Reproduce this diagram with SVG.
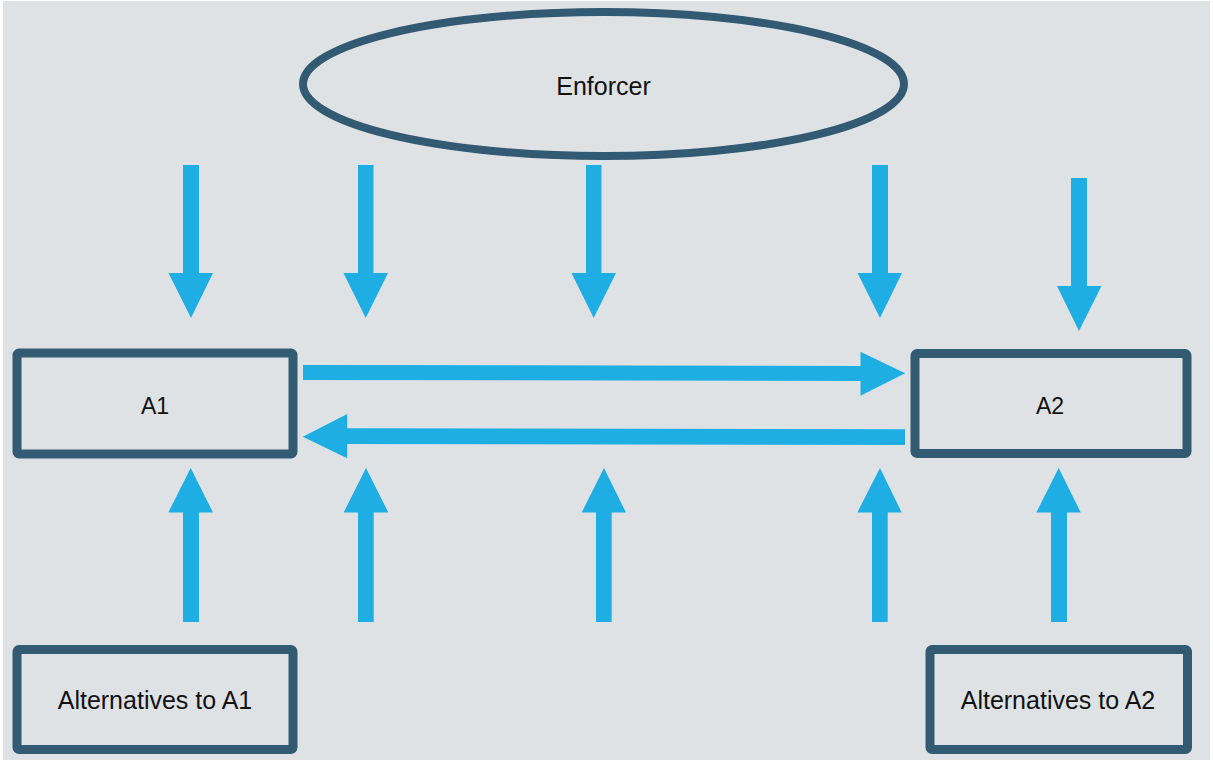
<svg xmlns="http://www.w3.org/2000/svg" width="1213" height="762" viewBox="0 0 1213 762">
<style>
.box{fill:#dfe2e5;stroke:#335a73;stroke-width:9;}
.ell{fill:#dfe2e5;stroke:#335a73;stroke-width:8;}
.lbl{font-family:"Liberation Sans",Arial,sans-serif;fill:#111;text-anchor:middle;}
.arr{fill:#1eaee4;}
</style>
<rect x="0" y="0" width="1213" height="762" fill="#ffffff"/>
<rect x="3" y="1" width="1207" height="759" fill="#dfe2e5"/>
<g id="enforcer">
<ellipse class="ell" cx="603.5" cy="84" rx="300.5" ry="72"/>
<text class="lbl" x="603.5" y="95" font-size="25">Enforcer</text>
</g>
<g id="a1">
<rect class="box" x="17" y="353" width="276" height="101" rx="2"/>
<text class="lbl" x="155" y="414" font-size="23">A1</text>
</g>
<g id="a2">
<rect class="box" x="915" y="353.5" width="272" height="100" rx="2"/>
<text class="lbl" x="1050" y="414" font-size="23">A2</text>
</g>
<g id="alt-a1">
<rect class="box" x="17" y="649.5" width="276" height="100" rx="2"/>
<text class="lbl" x="155" y="709" font-size="25">Alternatives to A1</text>
</g>
<g id="alt-a2">
<rect class="box" x="930" y="649.5" width="257.5" height="100" rx="2"/>
<text class="lbl" x="1058" y="709" font-size="25">Alternatives to A2</text>
</g>
<g id="connectors">
<polygon class="arr" points="183,165 199,165 199,273 213,273 191,318 168.5,273 183,273"/>
<polygon class="arr" points="358,165 373.5,165 373.5,273 388,273 365.7,318 343.5,273 358,273"/>
<polygon class="arr" points="586,165 601.5,165 601.5,273 616,273 593.7,318 571.5,273 586,273"/>
<polygon class="arr" points="872,165 888,165 888,273 902,273 880,318 857.5,273 872,273"/>
<polygon class="arr" points="1071,178 1087,178 1087,286 1101.5,286 1079,331 1057,286 1071,286"/>
<polygon class="arr" points="183,622 199,622 199,512.5 213,512.5 190.7,468 168.3,512.5 183,512.5"/>
<polygon class="arr" points="358,622 373.7,622 373.7,512.5 388.3,512.5 366,468 343.7,512.5 358,512.5"/>
<polygon class="arr" points="596,622 611.7,622 611.7,512.5 626,512.5 604,468 581.7,512.5 596,512.5"/>
<polygon class="arr" points="872,622 887.7,622 887.7,512.5 901.7,512.5 880,468 857.3,512.5 872,512.5"/>
<polygon class="arr" points="1051,622 1067,622 1067,512.5 1080.7,512.5 1058.7,468 1036.3,512.5 1051,512.5"/>
<polygon class="arr" points="303,365 860.5,366 860.5,351.7 905.2,373.3 860.5,395.7 860.5,381 303,380"/>
<polygon class="arr" points="905,429.3 347.2,428.3 347.2,414 302.8,436.7 347.2,458.3 347.2,444 905,445"/>
</g>
</svg>
